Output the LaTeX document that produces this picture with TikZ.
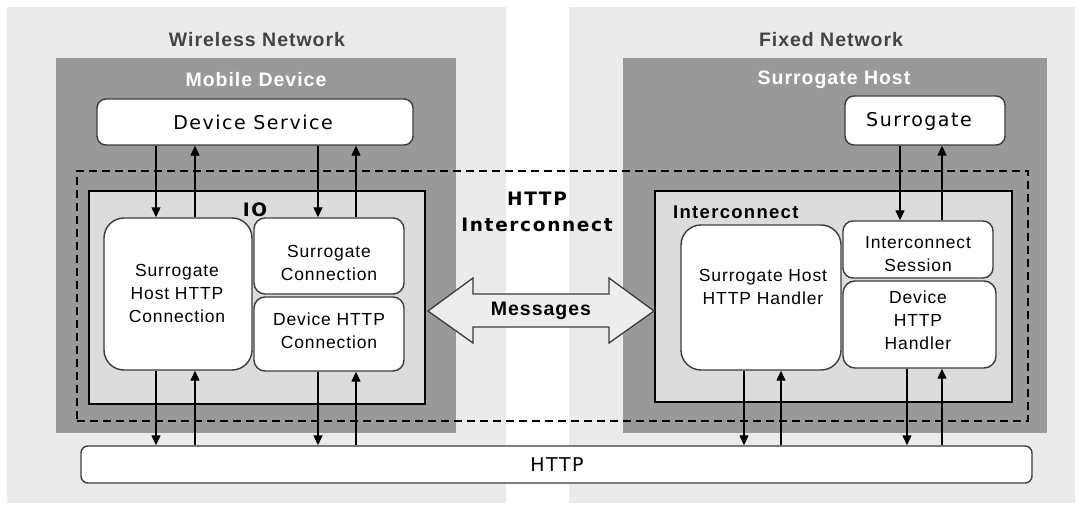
\documentclass[tikz,border=0pt]{standalone}
\usepackage{fontspec}
\setmainfont{Liberation Sans}
\newfontfamily\vfont[LetterSpace=8]{DejaVu Sans}
\newfontfamily\vbfont[LetterSpace=9]{DejaVu Sans}
\newfontfamily\afont[LetterSpace=5]{Liberation Sans}
\newfontfamily\abfont[LetterSpace=5]{Liberation Sans}
\newfontfamily\abwfont[LetterSpace=7]{Liberation Sans}
\usetikzlibrary{arrows.meta}
\definecolor{panel}{HTML}{EBEBEB}
\definecolor{darkpanel}{HTML}{999999}
\definecolor{iofill}{HTML}{DCDCDC}
\definecolor{bord}{HTML}{3C3C3C}
\definecolor{hdrgray}{HTML}{444444}
\definecolor{msgfill}{HTML}{EDEDED}
\begin{document}
\begin{tikzpicture}[x=1pt,y=-1pt,
  panelbox/.style={fill=panel, draw=none, inner sep=0pt},
  darkbox/.style={fill=darkpanel, draw=none, inner sep=0pt},
  wbox/.style={draw=bord, line width=1.4pt, fill=white, inner sep=0pt, rounded corners=#1},
  wbox/.default=8pt,
  layerbox/.style={draw=black, line width=1.5pt, fill=iofill, inner sep=0pt},
  hdr/.style={inner sep=0pt, font=\abfont\bfseries\fontsize{19.5}{22}\selectfont},
  vbold/.style={inner sep=0pt, align=center, font=\vbfont\bfseries\fontsize{18.5}{26}\selectfont},
  vtxt/.style={inner sep=0pt, font=\vfont\fontsize{19}{22}\selectfont},
  atxt/.style={inner sep=0pt, align=center, font=\afont\fontsize{17.5}{23}\selectfont},
  arr/.style={draw=black, line width=1.3pt, -{Triangle[width=9pt,length=10pt]}}
]
\useasboundingbox (0,0) rectangle (1082,505);
\fill[white] (0,0) rectangle (1082,505);

% network panels
\node[panelbox, minimum width=499pt, minimum height=496pt] (wlp) at (256.5,255) {};
\node[panelbox, minimum width=506pt, minimum height=496pt] (fxp) at (822,255) {};

% device / host boxes
\node[darkbox, minimum width=400pt, minimum height=375pt] (mdb) at (256,245.5) {};
\node[darkbox, minimum width=424pt, minimum height=375pt] (shb) at (835,245.5) {};

% headers
\node[hdr, text=hdrgray] (wn) at (257,40) {Wireless Network};
\node[hdr, text=white] (md) at (256,80) {Mobile Device};
\node[hdr, text=hdrgray] (fn) at (831,40) {Fixed Network};
\node[hdr, text=white] (sht) at (834,80) {Surrogate Host};

% top services
\node[wbox=9pt, minimum width=316pt, minimum height=46pt] (ds) at (255,122) {};
\node[vtxt] (dst) at (253,122) {Device Service};
\node[wbox=9pt, minimum width=160pt, minimum height=49pt] (sg) at (925,120.5) {};
\node[vtxt] (sgt) at (919,121) {Surrogate};

% dashed HTTP interconnect region
\node[draw=black, line width=1.5pt, dash pattern=on 8pt off 5pt, inner sep=0pt,
      minimum width=951pt, minimum height=250pt] (hir) at (552.5,296) {};

% IO and Interconnect layers
\node[layerbox, minimum width=336pt, minimum height=213pt] (io) at (257,297.5) {};
\node[vbold] (iot) at (255,210) {IO};
\node[layerbox, minimum width=357pt, minimum height=211pt] (ic) at (833.5,296.5) {};
\node[hdr, font=\abwfont\bfseries\fontsize{18.5}{22}\selectfont, anchor=west] (ict) at (673,212) {Interconnect};

% IO components
\node[wbox=20pt, minimum width=148pt, minimum height=152pt] (shhc) at (178,294) {};
\node[atxt] (shhct) at (177,293.5) {Surrogate\\Host HTTP\\Connection};
\node[wbox=11pt, minimum width=150pt, minimum height=76pt] (sc) at (329,256) {};
\node[atxt] (sct) at (329,263) {Surrogate\\Connection};
\node[wbox=11pt, minimum width=150pt, minimum height=74pt] (dhc) at (329,334) {};
\node[atxt] (dhct) at (329,330.5) {Device HTTP\\Connection};

% Interconnect components
\node[wbox=20pt, minimum width=160pt, minimum height=145pt] (shhh) at (761,297.5) {};
\node[atxt] (shhht) at (763,287) {Surrogate Host\\HTTP Handler};
\node[wbox=10pt, minimum width=150pt, minimum height=57pt] (is) at (918,249.5) {};
\node[atxt] (ist) at (918,254.5) {Interconnect\\Session};
\node[wbox=12pt, minimum width=153pt, minimum height=87pt] (dhh) at (919.5,324.5) {};
\node[atxt] (dhht) at (918,320) {Device\\HTTP\\Handler};

% HTTP bar
\node[wbox=7pt, minimum width=951pt, minimum height=37pt] (http) at (556.5,464.5) {};
\node[vtxt] (httpt) at (557,465) {HTTP};

% HTTP Interconnect label
\node[vbold] (hit) at (537,212) {HTTP\\Interconnect};

% arrow x positions
\coordinate (xa) at (156,0);
\coordinate (xb) at (195,0);
\coordinate (xc) at (318,0);
\coordinate (xd) at (356,0);
\coordinate (xe) at (900,0);
\coordinate (xf) at (942,0);
\coordinate (xg) at (744,0);
\coordinate (xh) at (781,0);
\coordinate (xi) at (907,0);

% Device Service <-> IO
\draw[arr] (xa |- ds.south) -- (xa |- shhc.north);
\draw[arr] (xb |- shhc.north) -- (xb |- ds.south);
\draw[arr] (xc |- ds.south) -- (xc |- sc.north);
\draw[arr] (xd |- sc.north) -- (xd |- ds.south);
% IO <-> HTTP
\draw[arr] (xa |- shhc.south) -- (xa |- http.north);
\draw[arr] (xb |- http.north) -- (xb |- shhc.south);
\draw[arr] (xc |- dhc.south) -- (xc |- http.north);
\draw[arr] (xd |- http.north) -- (xd |- dhc.south);
% Surrogate <-> Interconnect Session
\draw[arr] (xe |- sg.south) -- (xe |- is.north);
\draw[arr] (xf |- is.north) -- (xf |- sg.south);
% Interconnect <-> HTTP
\draw[arr] (xg |- shhh.south) -- (xg |- http.north);
\draw[arr] (xh |- http.north) -- (xh |- shhh.south);
\draw[arr] (xi |- dhh.south) -- (xi |- http.north);
\draw[arr] (xf |- http.north) -- (xf |- dhh.south);

% Messages double arrow
\draw[draw=bord, line width=1.3pt, fill=msgfill, line join=miter]
  (428,311) -- (473,278) -- (473,294) -- (609,294) -- (609,278) -- (654,311)
  -- (609,343) -- (609,327) -- (473,327) -- (473,343) -- cycle;
\node[hdr] (msg) at (541,311) {Messages};
\end{tikzpicture}
\end{document}
